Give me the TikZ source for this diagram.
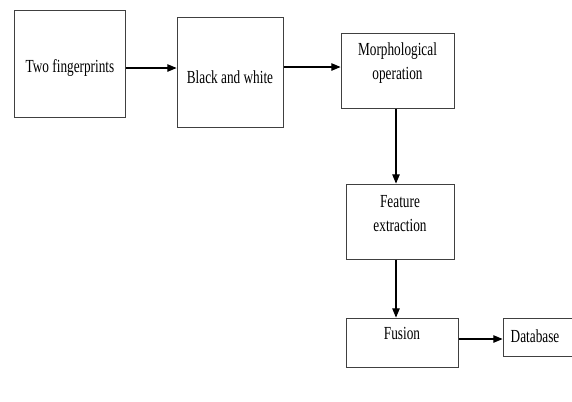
\documentclass[tikz,border=0pt]{standalone}
\usepackage{fontspec}
\setmainfont{Liberation Serif}[FakeStretch=0.72]
\usepackage{tikz}
\usetikzlibrary{arrows}
\definecolor{boxline}{rgb}{0.25,0.25,0.25}

\tikzset{
  stage/.style={draw=boxline,line width=1bp,fill=white,inner sep=0pt,align=center,
    font=\fontsize{18.5}{24}\selectfont},
  lbl/.style={inner sep=0pt,align=center,font=\fontsize{18.5}{24}\selectfont},
  flow/.style={->,line width=1.1bp,color=black}
}

\begin{document}
\begin{tikzpicture}[line cap=butt,line join=miter,>=triangle 45,x=1bp,y=-1bp]
      \useasboundingbox (0,0) rectangle (572,401);
      % stages
      \node[stage,minimum width=110bp,minimum height=107bp,
        label={[lbl,yshift=-4bp]center:{Two fingerprints}}] (twofp) at (70,63.5) {};
      \node[stage,minimum width=106bp,minimum height=110bp,
        label={[lbl,yshift=-5bp]center:{Black and white}}] (bw) at (230,72) {};
      \node[stage,minimum width=113bp,minimum height=75bp,
        label={[lbl,anchor=north,yshift=-10bp]north:{Morphological\\operation}}] (morph) at (397.5,70.5) {};
      \node[stage,minimum width=108bp,minimum height=75bp,
        label={[lbl,anchor=north,yshift=-12bp]north:{Feature\\extraction}}] (feat) at (400,221.5) {};
      \node[stage,minimum width=112bp,minimum height=49bp,
        label={[lbl,anchor=north,yshift=-10bp]north:{Fusion}}] (fusion) at (402,342.5) {};
      \node[stage,minimum width=77bp,minimum height=38bp,
        label={[lbl,anchor=west,xshift=8bp,yshift=1bp]west:{Database}}] (db) at (541.5,337) {};
      % connectors
      \draw[flow] (twofp.east |- 0,68) -- (bw.west |- 0,68);
      \draw[flow] (bw.east |- 0,67) -- (morph.west |- 0,67);
      \draw[flow] (morph.south -| 396,0) -- (feat.north -| 396,0);
      \draw[flow] (feat.south -| 396,0) -- (fusion.north -| 396,0);
      \draw[flow] (fusion.east |- 0,339) -- (db.west |- 0,339);
\end{tikzpicture}
\end{document}
